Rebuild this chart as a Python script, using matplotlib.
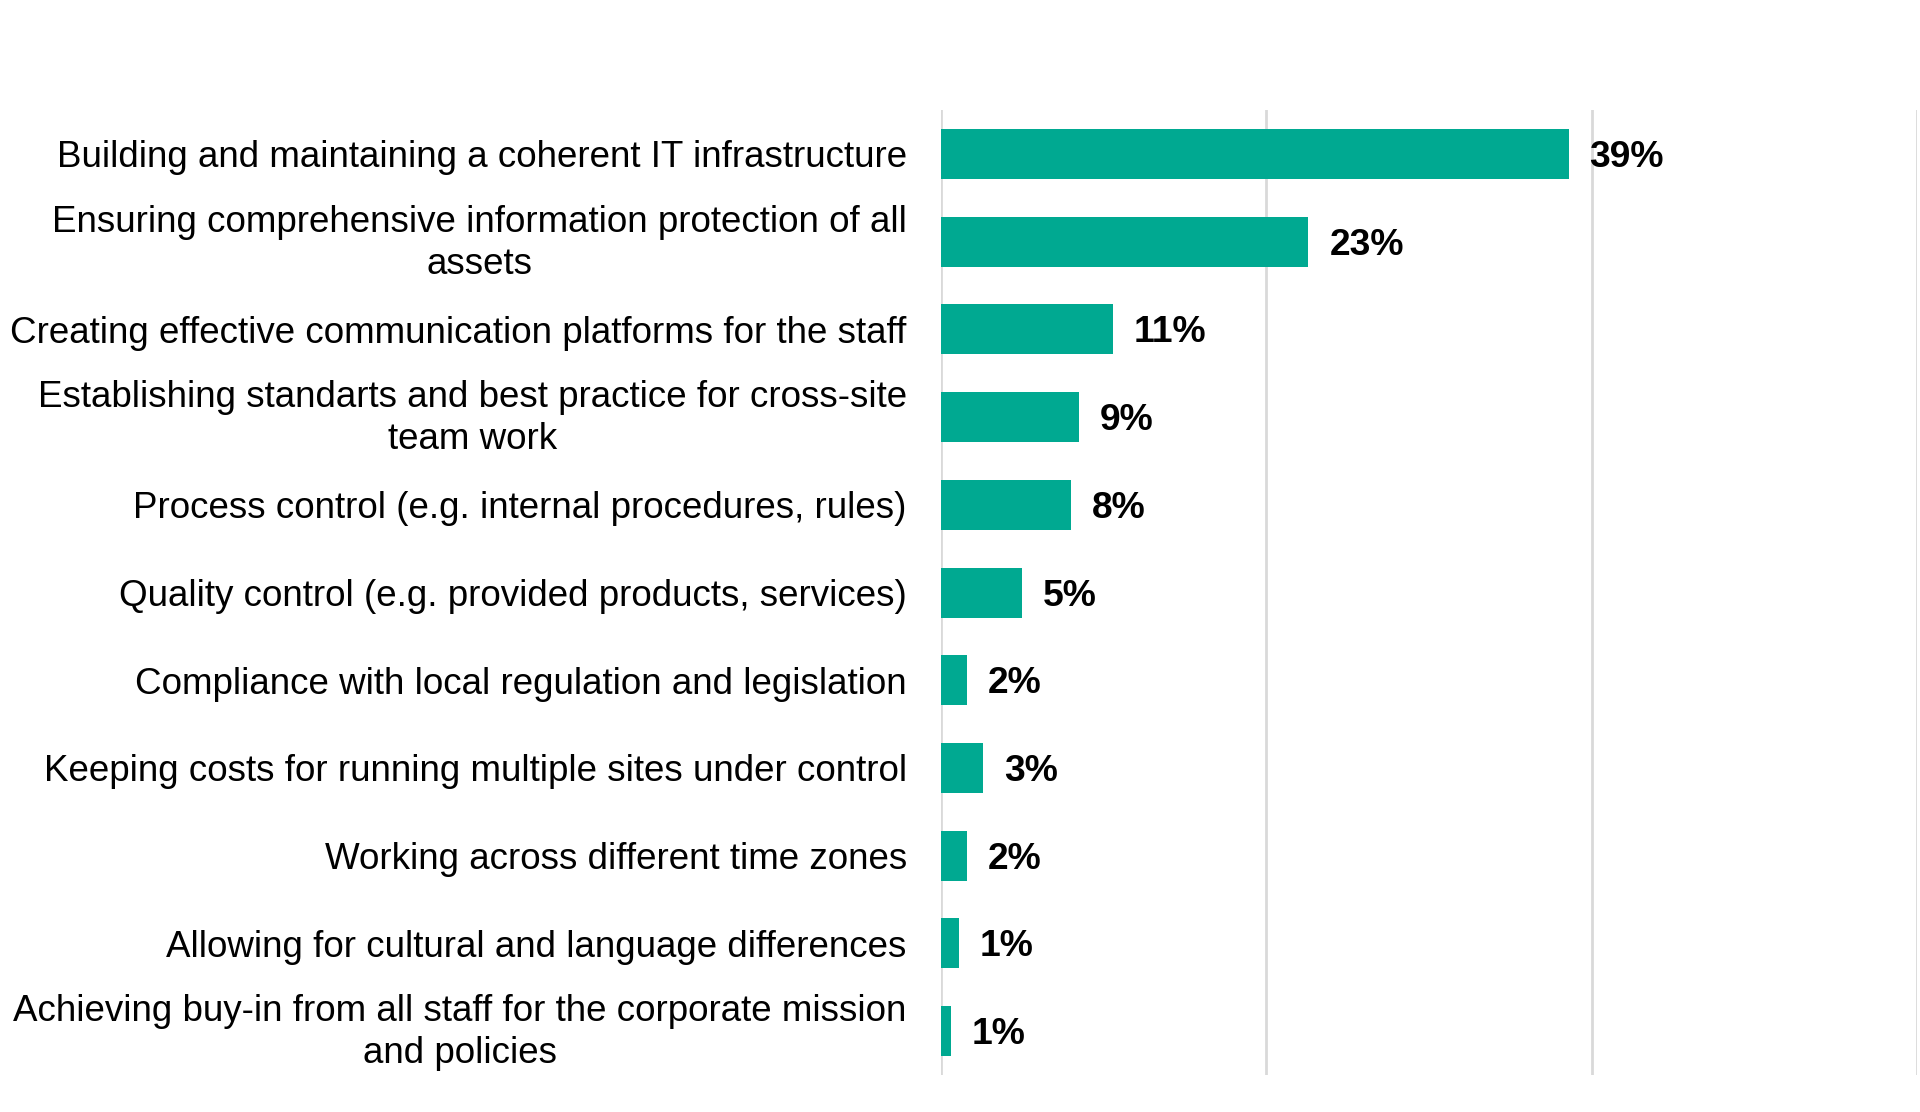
import matplotlib.pyplot as plt
from matplotlib.transforms import ScaledTranslation

# Survey answers, top to bottom
categories = [
    'Building and maintaining a coherent IT infrastructure',
    'Ensuring comprehensive information protection of all\nassets',
    'Creating effective communication platforms for the staff',
    'Establishing standarts and best practice for cross-site\nteam work',
    'Process control (e.g. internal procedures, rules)',
    'Quality control (e.g. provided products, services)',
    'Compliance with local regulation and legislation',
    'Keeping costs for running multiple sites under control',
    'Working across different time zones',
    'Allowing for cultural and language differences',
    'Achieving buy-in from all staff for the corporate mission\nand policies',
]
values = [38.6, 22.6, 10.6, 8.5, 8.0, 5.0, 1.6, 2.6, 1.6, 1.1, 0.6]
value_labels = ['39%', '23%', '11%', '9%', '8%', '5%', '2%', '3%', '2%', '1%', '1%']

plt.rcParams['font.family'] = ['Liberation Sans', 'DejaVu Sans']

fig = plt.figure(figsize=(19.2, 11.12), dpi=100)
ax = fig.add_axes([0.490, 0.0333, 0.5084, 0.8677])

y = list(range(len(categories)))
ax.barh(y, values, height=0.57, color='#00A991', zorder=2)

for yi, v, lab in zip(y, values, value_labels):
    ax.annotate(lab, (v, yi), xytext=(15, -2.5), textcoords='offset points',
                va='center', ha='left', fontsize=26.8, fontweight='bold', color='black')

ax.set_xlim(0, 60)
ax.set_ylim(len(categories) - 0.5, -0.5)
ax.set_xticks([0, 20, 40, 60])
ax.xaxis.grid(True, color='#d9d9d9', linewidth=2, zorder=0)
ax.tick_params(axis='x', bottom=False, labelbottom=False)
ax.set_yticks(y)
ax.set_yticklabels(categories, fontsize=26.5)
ax.tick_params(axis='y', left=False, pad=21)
for t in ax.get_yticklabels():
    t.set_multialignment('center')
    t.set_linespacing(1.26)
    # two-line labels sit a little higher in the original
    if '\n' in t.get_text():
        t.set_transform(t.get_transform() + ScaledTranslation(0, 4.4 / 72, fig.dpi_scale_trans))
for s in ax.spines.values():
    s.set_visible(False)

fig.savefig('out.png', dpi=100)
